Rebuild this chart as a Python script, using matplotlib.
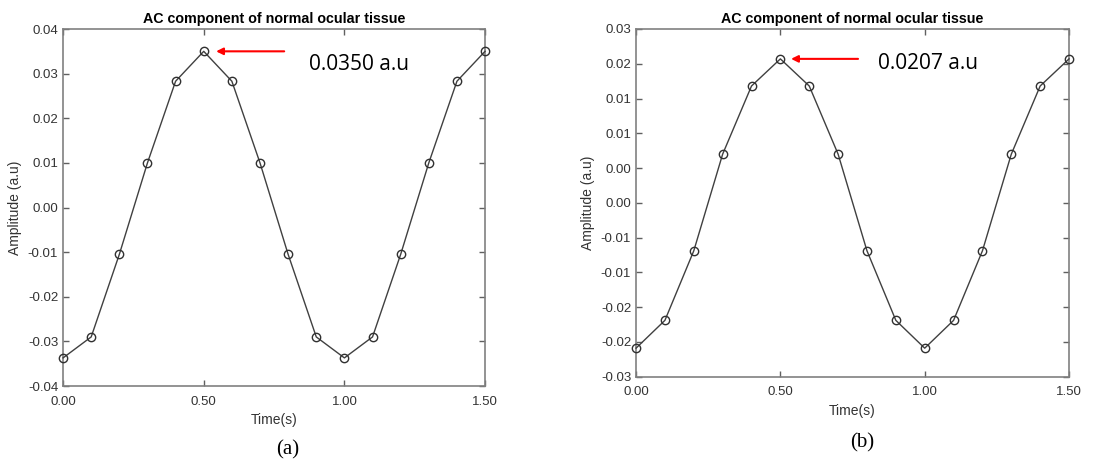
import numpy as np
import matplotlib
matplotlib.use("Agg")
import matplotlib.pyplot as plt

# time axis shared by both panels
time_s = [0.0, 0.1, 0.2, 0.3, 0.4, 0.5, 0.6, 0.7, 0.8, 0.9, 1.0, 1.1, 1.2, 1.3, 1.4, 1.5]

# (a) amplitude values
amp_a = [-0.0337, -0.0290, -0.0105, 0.0100, 0.0283, 0.0350, 0.0283, 0.0100,
         -0.0105, -0.0290, -0.0337, -0.0290, -0.0105, 0.0100, 0.0283, 0.0350]
# (b)
amp_b = [-0.0209, -0.0169, -0.0069, 0.0070, 0.0168, 0.0207, 0.0168, 0.0070,
         -0.0069, -0.0169, -0.0209, -0.0169, -0.0069, 0.0070, 0.0168, 0.0207]

xticks = [0.0, 0.5, 1.0, 1.5]
xtick_labels = ["0.00", "0.50", "1.00", "1.50"]
yticks_a = [-0.04, -0.03, -0.02, -0.01, 0.0, 0.01, 0.02, 0.03, 0.04]
ytick_labels_a = ["-0.04", "-0.03", "-0.02", "-0.01", "0.00", "0.01", "0.02", "0.03", "0.04"]
yticks_b = [-0.025, -0.02, -0.015, -0.01, -0.005, 0.0, 0.005, 0.01, 0.015, 0.02, 0.025]
ytick_labels_b = ["-0.03", "-0.02", "-0.02", "-0.01", "-0.01", "0.00", "0.00",
                  "0.01", "0.01", "0.02", "0.03"]

title = "AC component of normal ocular tissue"
peak_labels = ["0.0350 a.u", "0.0207 a.u"]
captions = ["(a)", "(b)"]

plt.rcParams['font.family'] = ['Liberation Sans', 'DejaVu Sans']

fig = plt.figure(figsize=(11.2, 4.68), dpi=100)
ax_a = fig.add_axes([0.0563, 0.1752, 0.3768, 0.7628])
ax_b = fig.add_axes([0.5679, 0.1951, 0.3866, 0.7430])

panels = [
    (ax_a, amp_a, yticks_a, ytick_labels_a, (-0.04, 0.04)),
    (ax_b, amp_b, yticks_b, ytick_labels_b, (-0.025, 0.025)),
]
# arrow head / tail and text start, as x offsets from the peak; text drop in points
arrow_head = [0.044, 0.037]
arrow_tail = [0.286, 0.269]
text_dx = [0.374, 0.338]
text_dy = [-9.5, -3.5]

for i, (ax, amp, yt, ytl, ylim) in enumerate(panels):
    ax.plot(time_s, amp, color="#404040", lw=1.0, marker="o", ms=6,
            mfc="none", mec="#303030", mew=1.0, clip_on=False, zorder=3)
    ax.set_xlim(0, 1.5)
    ax.set_ylim(*ylim)
    ax.set_xticks(xticks)
    ax.set_xticklabels(xtick_labels)
    ax.set_yticks(yt)
    ax.set_yticklabels(ytl)
    ax.tick_params(direction="in", top=True, right=True, length=4,
                   width=1, color="#606060", labelsize=9.5, labelcolor="#333333")
    ax.tick_params(axis="x", pad=7)
    for sp in ax.spines.values():
        sp.set_color("#808080")
        sp.set_linewidth(1.2)
    ax.set_title(title, fontsize=10.3, fontweight="bold", pad=4)
    ax.set_xlabel("Time(s)", fontsize=10, color="#333333", labelpad=4)
    ax.set_ylabel("Amplitude (a.u)", fontsize=10, color="#333333", labelpad=4)

    # red arrow pointing at the peak
    pk = 5
    ax.annotate("", xy=(time_s[pk] + arrow_head[i], amp[pk]),
                xytext=(time_s[pk] + arrow_tail[i], amp[pk]),
                arrowprops=dict(arrowstyle="-|>", color="red", lw=1.5,
                                mutation_scale=10, shrinkA=0, shrinkB=0))
    ax.annotate(peak_labels[i], xy=(time_s[pk] + text_dx[i], amp[pk]),
                xytext=(0, text_dy[i]), textcoords="offset points",
                fontsize=15, family="Open Sans", va="center", ha="left")

fig.text(0.2567, 0.038, captions[0], fontsize=15, family="Liberation Serif",
         ha="center", va="center")
fig.text(0.7694, 0.053, captions[1], fontsize=15, family="Liberation Serif",
         ha="center", va="center")

fig.savefig("out.png", dpi=100)
